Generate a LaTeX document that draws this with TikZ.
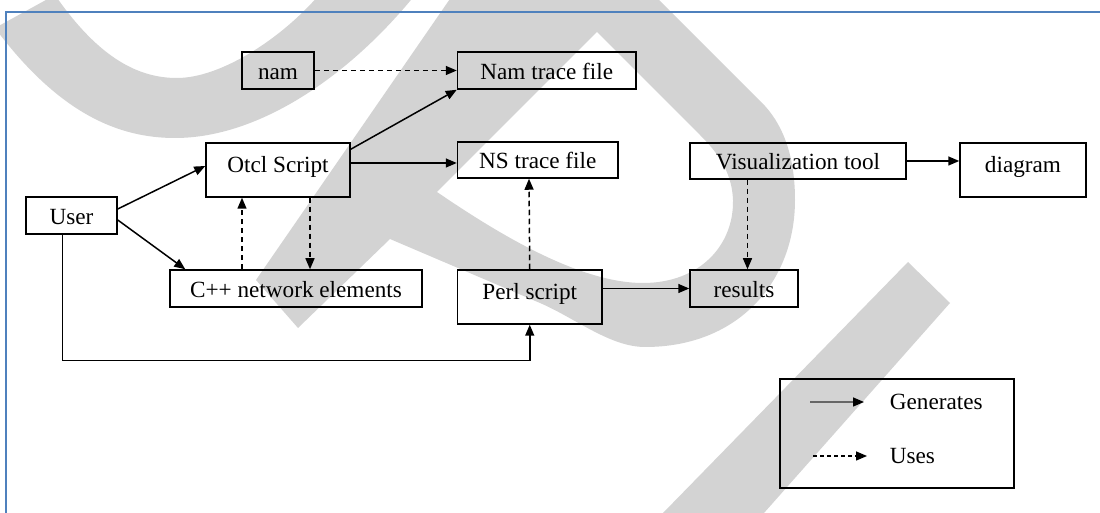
\documentclass[tikz,border=0pt]{standalone}
\usepackage{fontspec}
\setmainfont{Liberation Serif}
\usetikzlibrary{arrows.meta,calc}
\definecolor{wmgray}{RGB}{211,211,211}
\definecolor{frameblue}{RGB}{79,129,189}

\begin{document}
\begin{tikzpicture}[x=0.5pt, y=-0.5pt, font=\fontsize{11.6}{14}\selectfont,
		box/.style={draw, line width=0.75pt, inner sep=0pt, align=center, text height=0.9em, text depth=0pt},
		tallbox/.style={box, text height=0.7em, text depth=0.44em},
		gen/.style={-{Triangle[length=5.5pt,width=4.5pt,color=black]}, line width=0.75pt},
		uses/.style={gen, dash pattern=on 2.75pt off 1.75pt}]
				\useasboundingbox (0,0) rectangle (1100,513);
				
				\fill[wmgray] (-5,28) .. controls (60,115) and (120,138) .. (175,138) .. controls (260,138) and (350,75) .. (415,-5) -- (319,-5) .. controls (280,40) and (220,78) .. (177,78) .. controls (140,78) and (100,60) .. (55,-5) -- cycle;
				\fill[wmgray, even odd rule] (463,-20) -- (256,280) -- (298,328) -- (390,239) -- (540,303) .. controls (575,318) and (610,347) .. (645,347) .. controls (740,347) and (795,280) .. (795,200) .. controls (795,160) and (785,128) .. (765,106) -- (639,-20) -- cycle
					(597,32) -- (437,192) .. controls (500,235) and (580,283) .. (643,283) .. controls (700,283) and (734,245) .. (733,200) .. controls (732,170) and (715,150) .. (700,135) -- cycle;
				\fill[wmgray] (663,513) -- (908,262) -- (950,303) -- (764,513) -- cycle;
				
				\draw[frameblue, line width=1pt] (6,513) -- (6,12) -- (1100,12);
				
				\node[box, minimum width=36pt, minimum height=18.5pt] (nam) at (278,70.5) {nam};
				\node[box, minimum width=89.25pt, minimum height=18.5pt] (namtrace) at (546.75,70.5) {Nam trace file};
				\node[tallbox, minimum width=72pt, minimum height=27pt] (otcl) at (278,170) {Otcl Script};
				\node[box, minimum width=80.25pt, minimum height=18pt] (nstrace) at (537.75,160) {NS trace file};
				\node[box, minimum width=45.5pt, minimum height=18.5pt] (user) at (71.5,215.5) {User};
				\node[box, minimum width=108pt, minimum height=18pt] (vis) at (798,161) {Visualization tool};
				\node[tallbox, minimum width=63pt, minimum height=27pt] (diagram) at (1023,170) {diagram};
				\node[box, minimum width=126pt, minimum height=18.5pt] (cpp) at (296,288.5) {C++ network elements};
				\node[tallbox, minimum width=72.25pt, minimum height=27pt] (perl) at (529.75,297) {Perl script};
				\node[box, minimum width=54pt, minimum height=18.5pt] (results) at (744,288.5) {results};
				
				\node[box, minimum width=117pt, minimum height=54.5pt] (legend) at (897,433.5) {};
				\node[anchor=west, inner sep=0pt] (l_gen) at (889.5,402) {Generates};
				\node[anchor=west, inner sep=0pt] (l_uses) at (889.5,456) {Uses};
				
				\path[gen]
				($(user.east)+(0,-6.5)$) edge ($(otcl.west)+(0,-4)$)
				($(user.east)+(0,4.5)$) edge ($(cpp.north west)+(16,0)$)
				($(otcl.north east)+(0,7)$) edge (namtrace.south west)
				($(otcl.east)+(0,-7)$) edge ($(nstrace.west)+(0,3)$)
				(vis.east) edge (vis.east -| diagram.west)
				(perl.east |- results.west) edge (results.west)
				($(l_gen.west)+(-79.5,0)$) edge[draw=black!60] ($(l_gen.west)+(-25.5,0)$)
				;
				\draw[gen] ($(user.south)+(-9,0)$) |- ($(perl.south)+(0,36)$) -- (perl.south);
				
				\path[uses]
				(nam) edge (namtrace)
				($(cpp.north)+(-54,0)$) edge ($(otcl.south)+(-36,0)$)
				($(otcl.south)+(32,0)$) edge ($(cpp.north)+(14,0)$)
				(perl.north) edge ($(nstrace.south)+(-8.75,0)$)
				($(vis.south)+(-50.5,0)$) edge ($(results.north)+(3.5,0)$)
				($(l_uses.west)+(-76.5,0)$) edge[dash pattern=on 2pt off 1.5pt] ($(l_uses.west)+(-22.5,0)$)
				;
			\end{tikzpicture}
\end{document}
